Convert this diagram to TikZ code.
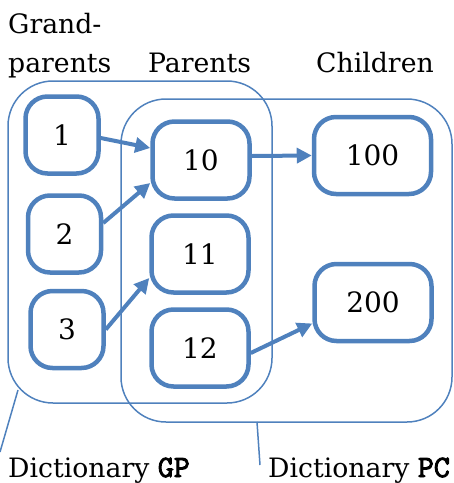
\documentclass[tikz,border=0pt]{standalone}
\usepackage{fontspec}
\setmainfont{DejaVu Serif}
\newfontfamily\codefont{Latin Modern Mono}[FakeBold=3]
\usetikzlibrary{arrows.meta,calc}
\definecolor{ofblue}{HTML}{4F81BD}
\tikzset{
  item/.style={draw=ofblue, line width=4.5pt, rounded corners=22pt, fill=white,
    minimum width=73pt, minimum height=77pt, inner sep=0pt,
    font=\fontsize{28}{32}\selectfont},
  wide/.style={item, minimum width=117pt},
  mid/.style={item, minimum width=97pt},
  group/.style={draw=ofblue, line width=1.5pt, rounded corners=45pt},
  lbl/.style={anchor=base west, inner sep=0pt, font=\fontsize{26.7}{32}\selectfont},
  link/.style={draw=ofblue, line width=4pt, -{Triangle[length=15pt,width=15pt]}},
  leader/.style={draw=ofblue, line width=1.5pt}
}
\newcommand{\codetxt}[1]{{\codefont\fontsize{31}{34}\selectfont #1}}
\begin{document}
\begin{tikzpicture}[x=1pt,y=-1pt]
\useasboundingbox (0,0) rectangle (454,483);
% containers
\draw[group] (8,81) rectangle (272,403);
\draw[group] (121,99) rectangle (452,422);
% labels
\node[lbl] (lg1) at (8,33) {Grand-};
\node[lbl] (lg2) at (8,72) {parents};
\node[lbl] (lp) at (148,72) {Parents};
\node[lbl] (lc) at (316,72) {Children};
\node[lbl] (dgp) at (8,477) {Dictionary \codetxt{GP}};
\node[lbl] (dpc) at (268,477) {Dictionary \codetxt{PC}};
% items
\node[item] (b1) at (62,135) {1};
\node[item] (b2) at (64.5,234) {2};
\node[item] (b3) at (67,329.5) {3};
\node[mid] (b10) at (201,160) {10};
\node[mid] (b11) at (200,254) {11};
\node[mid] (b12) at (200,348) {12};
\node[wide] (b100) at (372.5,155.5) {100};
\node[wide] (b200) at (373,302.5) {200};
% arrows
\draw[link] ([yshift=-3pt]b1.east) -- ([yshift=12pt]b10.west);
\draw[link] ([yshift=11pt]b2.east) -- ([yshift=-23pt]b10.west);
\draw[link] (b3.east) -- ([yshift=-24pt]b11.west);
\draw[link] ([yshift=4pt]b10.east) -- ([yshift=0pt]b100.west);
\draw[link] ([yshift=-5pt]b12.east) -- ([yshift=-21pt]b200.west);
% leaders
\coordinate (gpc) at (18,390);
\coordinate (gpe) at (0,452);
\coordinate (pcc) at (257,422);
\coordinate (pce) at (260,465);
\draw[leader] (gpc) -- (gpe);
\draw[leader] (pcc) -- (pce);
\end{tikzpicture}
\end{document}
